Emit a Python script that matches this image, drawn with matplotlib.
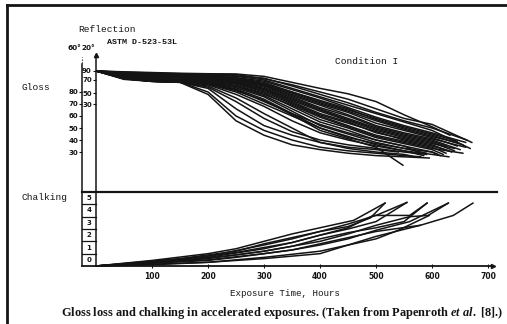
import matplotlib
matplotlib.use("Agg")
import matplotlib.pyplot as plt
from matplotlib.lines import Line2D
import numpy as np

plt.rcParams['mathtext.fontset'] = 'custom'
plt.rcParams['mathtext.rm'] = 'Liberation Serif:bold'
plt.rcParams['mathtext.it'] = 'Liberation Serif:italic:bold'

# ---------------- data ----------------
gloss_hours = [0, 50, 100, 150, 200, 250, 300, 350, 400, 450, 500, 550, 600]
gloss_values = [
    [97.5, 96.8, 96.2, 95.6, 95.2, 95.0, 93.0, 88.0, 83.0, 78.5, 72.0, 61.0, 51.0],
    [97.5, 96.5, 95.8, 95.2, 95.0, 94.5, 91.0, 86.0, 80.0, 74.0, 66.0, 58.0, 53.0],
    [97.5, 96.0, 95.0, 94.5, 94.0, 93.0, 90.0, 83.0, 76.0, 69.0, 62.0, 55.0, 48.0],
    [97.5, 95.5, 94.5, 93.8, 93.0, 91.5, 88.0, 80.0, 73.0, 66.0, 57.0, 50.0, 44.0],
    [97.5, 95.0, 93.5, 92.8, 92.0, 90.5, 86.0, 78.0, 70.0, 63.0, 54.0, 48.0, 42.0],
    [97.5, 94.5, 92.5, 91.5, 91.0, 89.5, 85.0, 76.0, 67.0, 60.0, 51.0, 45.0, 40.0],
    [97.5, 94.0, 92.0, 91.0, 90.5, 88.5, 83.0, 74.0, 65.0, 57.0, 49.0, 43.0, 38.0],
    [97.5, 93.5, 91.0, 90.5, 90.0, 87.5, 82.0, 72.0, 62.0, 55.0, 46.0, 41.0, 36.0],
    [97.5, 93.0, 90.5, 90.0, 89.5, 86.5, 80.0, 70.0, 60.0, 52.0, 44.0, 39.0, 34.0],
    [97.5, 92.5, 90.0, 89.5, 89.0, 85.5, 79.0, 68.0, 57.0, 50.0, 42.0, 37.0, 32.0],
    [97.5, 92.0, 89.5, 89.0, 88.5, 84.5, 77.0, 66.0, 55.0, 48.0, 40.0, 35.0, 30.0],
    [97.5, 91.5, 89.0, 88.5, 88.0, 83.5, 76.0, 64.0, 52.0, 45.0, 38.0, 33.0, None],
    [97.5, 91.0, 89.0, 88.5, 87.5, 82.5, 74.0, 62.0, 50.0, 43.0, 36.0, 31.0, None],
    [97.5, 90.5, 88.8, 88.3, 87.0, 81.0, 73.0, 61.0, 48.0, 41.0, 34.0, None, None],
    [97.5, 96.2, 95.4, 94.8, 94.2, 93.5, 91.5, 85.0, 78.0, 71.0, 63.0, 56.0, 50.0],
    [97.5, 95.8, 94.8, 94.0, 93.5, 92.0, 89.0, 82.0, 75.0, 67.0, 59.0, 52.0, 46.0],
    [97.5, 95.2, 94.0, 93.2, 92.5, 91.0, 87.0, 79.0, 71.0, 64.0, 56.0, 49.0, 43.0],
    [97.5, 94.8, 93.0, 92.2, 91.5, 90.0, 85.5, 77.0, 69.0, 61.0, 52.0, 46.0, 41.0],
    [97.5, 94.2, 92.2, 91.2, 90.8, 89.0, 84.0, 75.0, 66.0, 58.0, 50.0, 44.0, 39.0],
    [97.5, 93.8, 91.5, 90.8, 90.2, 88.0, 82.5, 73.0, 64.0, 56.0, 48.0, 42.0, 37.0],
    [97.5, 92.5, 89.5, 88.5, 86.0, 78.0, 68.0, 56.0, 46.0, 40.0, 35.0, 31.0, 28.0],
    [97.5, 92.0, 89.0, 88.3, 84.0, 72.0, 58.0, 47.0, 40.0, 36.0, 33.0, 30.0, None],
    [97.5, 91.5, 89.0, 88.2, 80.0, 60.0, 48.0, 40.0, 34.0, 31.0, 29.0, 27.0, None],
    [97.5, 91.0, 88.8, 88.0, 78.0, 56.0, 44.0, 36.0, 32.0, 29.0, 27.0, 26.0, None],
    [97.5, 91.2, 88.8, 88.2, 85.0, 75.0, 62.0, 50.0, 38.0, 33.0, 30.0, 28.0, None],
    [97.5, 92.2, 89.2, 88.4, 86.5, 80.0, 70.0, 60.0, 50.0, 42.0, 37.0, 33.0, 30.0],
    [97.5, 92.8, 89.8, 88.8, 87.0, 82.0, 72.0, 62.0, 53.0, 46.0, 40.0, 35.0, None],
    [97.5, 91.8, 89.0, 88.0, 83.0, 66.0, 52.0, 44.0, 38.0, 34.0, 32.0, None, None],
    [97.5, 95.3, 93.8, 93.0, 92.2, 90.8, 86.5, 80.0, 72.0, 65.0, 58.0, 51.0, 45.0],
    [97.5, 93.2, 90.8, 90.2, 89.8, 87.0, 81.0, 71.0, 61.0, 54.0, 47.0, 40.0, 35.0],
    [97.5, 92.6, 89.8, 89.2, 88.8, 85.0, 78.0, 69.0, 59.0, 51.0, 43.0, 38.0, 33.0],
]
gloss_end_hours = [632, 671, 668, 655, 645, 650, 640, 635, 625, 620, 615, 590, 585, 548,
                   662, 660, 650, 660, 625, 640, 630, 590, 580, 595, 570, 610, 575, 540,
                   645, 630, 655]
gloss_end_values = [44, 38, 33, 36, 35, 32, 31, 30, 29, 28, 27, 29, 27, 19,
                    40, 38, 37, 34, 35, 33, 26, 28, 26, 25, 26, 28, 30, 30,
                    39, 31, 29]

chalk_hours = [
    [0, 100, 200, 250, 300, 350, 400, 460, 516],
    [0, 100, 200, 300, 350, 400, 450, 500, 555],
    [0, 100, 200, 300, 350, 400, 450, 495, 560, 591],
    [0, 100, 200, 300, 400, 450, 500, 560, 593, 629],
    [0, 100, 200, 300, 400, 500, 579, 638, 673],
    [0, 150, 250, 300, 350, 400, 450, 490, 516],
    [0, 150, 250, 300, 350, 400, 450, 500, 555],
    [0, 150, 250, 300, 350, 400, 450, 500, 550, 591],
    [0, 200, 300, 350, 400, 450, 500, 579],
    [0, 200, 250, 300, 350, 400, 450, 500, 560, 629],
    [0, 200, 300, 400, 450, 500, 540, 595],
]
chalk_values = [
    [0, 0.45, 1.0, 1.4, 2.0, 2.6, 3.1, 3.7, 5.1],
    [0, 0.35, 0.8, 1.7, 2.2, 2.8, 3.4, 4.1, 5.15],
    [0, 0.3, 0.7, 1.4, 1.9, 2.5, 3.1, 4.1, 4.1, 5.1],
    [0, 0.25, 0.6, 1.2, 2.0, 2.6, 3.3, 4.0, 4.1, 5.1],
    [0, 0.1, 0.3, 0.6, 1.0, 2.4, 3.3, 4.1, 5.1],
    [0, 0.6, 1.2, 1.8, 2.3, 2.8, 3.2, 3.9, 5.1],
    [0, 0.5, 1.1, 1.5, 1.9, 2.5, 3.0, 3.6, 5.15],
    [0, 0.4, 0.9, 1.2, 1.6, 2.2, 2.7, 3.1, 3.6, 5.1],
    [0, 0.5, 1.0, 1.3, 1.8, 2.3, 2.8, 3.3],
    [0, 0.45, 0.7, 1.0, 1.3, 1.7, 2.2, 2.9, 3.6, 5.1],
    [0, 0.3, 0.7, 1.2, 1.7, 2.2, 2.9, 4.1],
]

x_ticks = [100, 200, 300, 400, 500, 600, 700]
gloss60_ticks = [80, 70, 60, 50, 40, 30]
gloss20_tick_pos = [97.8, 90.0, 78.9, 69.8]     # 20 deg scale positions on the 60 deg scale
gloss20_labels = ['90', '70', '50', '30']
chalk_labels = ['0', '1', '2', '3', '4', '5']

# ---------------- layout ----------------
W, H = 507, 324
fig = plt.figure(figsize=(W / 100, H / 100), dpi=100)
fig.patch.set_facecolor('white')

def fx(px):
    return px / W

def fy(py):
    return 1 - py / H

def rect(x0, y0, x1, y1):
    return [fx(x0), fy(y1), fx(x1) - fx(x0), fy(y0) - fy(y1)]

XL = (-25, 716)
GL = (-3.3, 110.8)
ink = '#141414'
mono = 'Liberation Mono'

ax_g = fig.add_axes(rect(96, 55, 497, 192))
ax_60 = fig.add_axes(rect(82, 55, 96, 192))
ax_c = fig.add_axes(rect(82, 192, 497, 266))
for a in (ax_g, ax_60, ax_c):
    a.patch.set_visible(False)
    for s in a.spines.values():
        s.set_visible(False)

# gloss panel
ax_g.set_xlim(0, XL[1])
ax_g.set_ylim(*GL)
ax_g.set_xticks([])
ax_g.spines['left'].set_visible(True)
ax_g.spines['left'].set_linewidth(1.1)
ax_g.spines['left'].set_color(ink)
ax_g.set_yticks(gloss20_tick_pos)
ax_g.set_yticklabels(gloss20_labels)
ax_g.tick_params(axis='y', direction='out', length=2.5, width=0.8, pad=0.5,
                 labelsize=5, colors=ink)
for t in ax_g.get_yticklabels():
    t.set_fontweight('bold')
ax_g.plot([0], [GL[1]], marker='^', ms=3, color=ink, clip_on=False)

gh = np.array(gloss_hours, dtype=float)
for vals, eh, ev in zip(gloss_values, gloss_end_hours, gloss_end_values):
    v = np.array([np.nan if q is None else q for q in vals], dtype=float)
    ok = ~np.isnan(v)
    xs = np.append(gh[ok], eh)
    ys = np.append(v[ok], ev)
    ax_g.plot(xs, ys, color=ink, lw=1.1, solid_joinstyle='miter')

# 60 deg scale
ax_60.set_xlim(0, 1)
ax_60.set_ylim(*GL)
ax_60.set_xticks([])
ax_60.spines['left'].set_visible(True)
ax_60.spines['left'].set_bounds(GL[0], 103.0)
ax_60.spines['left'].set_linewidth(1.1)
ax_60.spines['left'].set_color(ink)
ax_60.set_yticks(gloss60_ticks)
ax_60.set_yticklabels([str(t) for t in gloss60_ticks])
ax_60.tick_params(axis='y', direction='out', length=2, width=0.8, pad=0.5,
                  labelsize=5, colors=ink)
for t in ax_60.get_yticklabels():
    t.set_fontweight('bold')
ax_60.plot([0, 0], [104, 109], ls=(0, (1, 1.5)), color=ink, lw=0.8, clip_on=False)

# chalking panel
ax_c.set_xlim(*XL)
ax_c.set_ylim(0, 6)
ax_c.spines['top'].set_visible(True)
ax_c.spines['top'].set_linewidth(1.6)
ax_c.spines['top'].set_color(ink)
ax_c.spines['left'].set_visible(True)
ax_c.spines['left'].set_linewidth(1.1)
ax_c.spines['left'].set_color(ink)
ax_c.set_yticks([])
ax_c.plot([0, 0], [0, 6], color=ink, lw=1.1)
for k in range(1, 6):
    ax_c.plot([XL[0], 0], [k, k], color=ink, lw=0.9)
for k, lab in enumerate(chalk_labels):
    ax_c.text(XL[0] / 2, k + 0.5, lab, ha='center', va='center', fontsize=5,
              fontweight='bold', color=ink)
ax_c.plot([XL[0], 709], [0, 0], color=ink, lw=1.3, clip_on=False)
ax_c.plot([709], [0], marker='>', ms=3, color=ink, clip_on=False)
ax_c.set_xticks(x_ticks)
ax_c.set_xticklabels([str(t) for t in x_ticks])
ax_c.tick_params(axis='x', direction='inout', length=2.5, width=0.8, pad=3,
                 labelsize=5.5, colors=ink)
for t in ax_c.get_xticklabels():
    t.set_fontweight('bold')

for hs, vs in zip(chalk_hours, chalk_values):
    ax_c.plot(hs, vs, color=ink, lw=1.1, clip_on=False)

# texts
fig.text(fx(78), fy(30), 'Reflection', family=mono, fontsize=6.8, va='center', ha='left', color=ink)
fig.text(fx(107), fy(43), 'ASTM D-523-53L', family=mono, fontsize=6.0, va='center', ha='left',
         fontweight='bold', color=ink)
fig.text(fx(81), fy(48), '60°', fontsize=5.2, va='center', ha='right', fontweight='bold', color=ink)
fig.text(fx(95), fy(48), '20°', fontsize=5.2, va='center', ha='right', fontweight='bold', color=ink)
fig.text(fx(22), fy(88), 'Gloss', family=mono, fontsize=6.8, va='center', ha='left', color=ink)
fig.text(fx(367), fy(61), 'Condition I', family=mono, fontsize=6.8, va='center', ha='center', color=ink)
fig.text(fx(22), fy(198), 'Chalking', family=mono, fontsize=6.8, va='center', ha='left', color=ink)
fig.text(fx(285), fy(293), 'Exposure Time, Hours', family=mono, fontsize=6.6, va='center',
         ha='center', color=ink)
fig.text(fx(282), fy(313),
         r'Gloss loss and chalking in accelerated exposures. (Taken from Papenroth $\it{et\ al.}$ [8].)',
         family='Liberation Serif', fontweight='bold', fontsize=8.9, va='center', ha='center',
         color=ink)

# frame
fig.add_artist(Line2D([fx(7), fx(507)], [fy(5), fy(5)], color=ink, lw=2.0))
fig.add_artist(Line2D([fx(7), fx(7)], [fy(5), fy(324)], color=ink, lw=2.0))

fig.savefig('out.png', dpi=100, facecolor='white')
